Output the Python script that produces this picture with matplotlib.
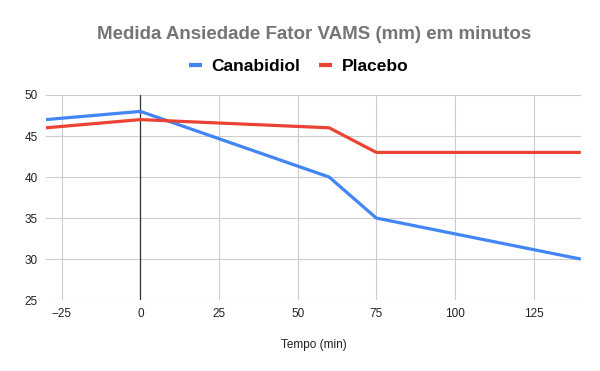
import matplotlib
matplotlib.use("Agg")
from matplotlib import pyplot as plt

plt.rcParams['font.family'] = ['Liberation Sans', 'DejaVu Sans']

tempo = [-30, 0, 60, 75, 140]
canabidiol = [47, 48, 40, 35, 30]
placebo = [46, 47, 46, 43, 43]
xticks = [-25, 0, 25, 50, 75, 100, 125]
yticks = [25, 30, 35, 40, 45, 50]

fig = plt.figure(figsize=(6, 3.71), dpi=100)
ax = fig.add_axes([0.0767, 0.191, 0.8913, 0.553])

ax.plot(tempo, canabidiol, color='#4285F4', lw=2.3, label='Canabidiol', solid_capstyle='butt')
ax.plot(tempo, placebo, color='#EA4335', lw=2.3, label='Placebo', solid_capstyle='butt')

ax.set_xlim(-30, 140)
ax.set_ylim(25, 50)
ax.set_xticks(xticks)
ax.set_yticks(yticks)
ax.grid(True, color='#cccccc', lw=0.8)
ax.set_axisbelow(True)
ax.axvline(0, color='#333333', lw=0.9, zorder=1.5)
for s in ax.spines.values():
    s.set_visible(False)
ax.tick_params(length=0, labelsize=8.5, colors='#222222', pad=6)

ax.set_xlabel('Tempo (min)', fontsize=8.5, color='#222222', labelpad=13)

fig.suptitle('Medida Ansiedade Fator VAMS (mm) em minutos', x=0.523, y=0.93,
             fontsize=13.5, fontweight='bold', color='#757575')
leg = fig.legend(loc='center', bbox_to_anchor=(0.498, 0.82), ncol=2, frameon=False,
                 handlelength=0.75, columnspacing=1.1, handletextpad=0.55,
                 prop={'weight': 'bold', 'size': 12.5})
for h in leg.legend_handles:
    h.set_linewidth(3)

fig.savefig('out.png', dpi=100)
